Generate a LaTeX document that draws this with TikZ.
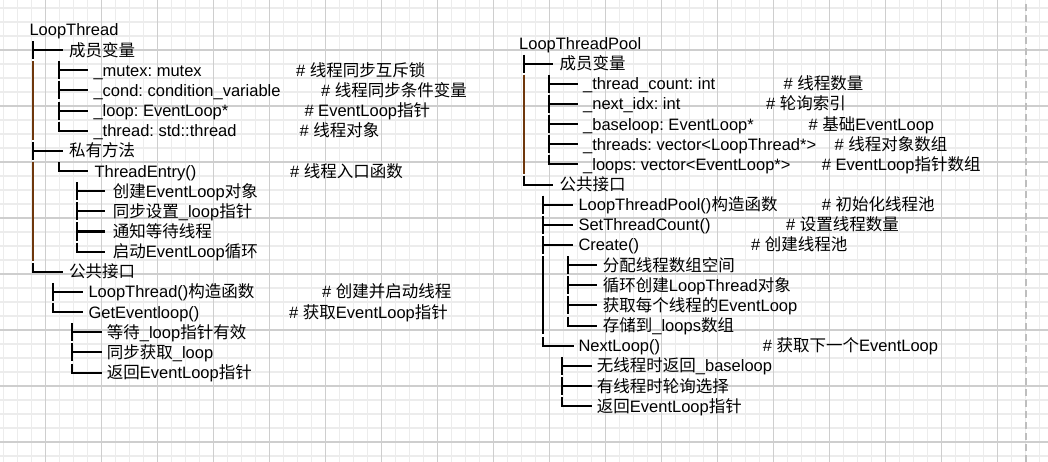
\documentclass[tikz,border=0pt]{standalone}
\usepackage{fontspec}
\setmainfont{Liberation Sans}
\newfontfamily\cjk{Noto Sans CJK SC}
\newcommand\zh[1]{{\cjk #1}}
\frenchspacing
\definecolor{gridminor}{RGB}{236,236,236}
\definecolor{gridmajor}{RGB}{206,206,206}
\definecolor{dashgray}{RGB}{190,190,190}
\definecolor{barbrown}{RGB}{110,55,12}
\tikzset{
  txt/.style={anchor=base west, inner sep=0pt, font=\fontsize{16.5}{20}\selectfont},
  glyph/.style={line width=2pt, draw=black},
  bar/.style={line width=2.2pt, draw=barbrown},
  minorline/.style={line width=1.5pt, draw=gridminor},
  majorline/.style={line width=1.1pt, draw=gridmajor},
}
% tee: vertical x, row y, horizontal end x
\newcommand\Tee[3]{\draw[glyph] (#1,#2-9) -- (#1,#2+9); \draw[glyph] (#1,#2) -- (#3,#2);}
\newcommand\Ell[3]{\draw[glyph] (#1,#2-9) -- (#1,#2) -- (#3,#2);}
\newcommand\Bar[3]{\draw[bar] (#1,#2+11) -- (#1,#3-11);}
\newcommand\Txt[4]{\node[txt] (#1) at (#2,#3+6) {#4};}
\begin{document}
\begin{tikzpicture}[x=1pt,y=-1pt]
\useasboundingbox (0,0) rectangle (1048,462);
\fill[white] (0,0) rectangle (1048,462);
% grid
\foreach \i in {0,...,74} {\draw[minorline] ({3.7+14*\i},0) -- ({3.7+14*\i},462);}
\foreach \i in {0,...,32} {\draw[minorline] (0,{8+14*\i}) -- (1048,{8+14*\i});}
\foreach \i in {0,...,17} {\draw[majorline] ({45.7+56*\i},0) -- ({45.7+56*\i},462);}
\foreach \i in {1,...,8} {\draw[majorline] (0,{-6+56*\i}) -- (1048,{-6+56*\i});}
\draw[dashgray, line width=2pt, dash pattern=on 7pt off 4pt] (1026,4) -- (1026,462);

% ===== Left tree: LoopThread =====
\Txt{lt}{29.3}{30}{LoopThread}
\Tee{33.3}{50.15}{63}
\Txt{ltm}{69}{50.15}{\zh{成员变量}}
\Bar{33.3}{50.15}{150.9}
\Tee{59.3}{70.3}{88}
\Txt{ltm1}{93.3}{70.3}{\_mutex: mutex}
\Txt{ltc1}{296}{70.3}{\# \zh{线程同步互斥锁}}
\Tee{59.3}{90.45}{88}
\Txt{ltm2}{93.3}{90.45}{\_cond: condition\_variable}
\Txt{ltc2}{321}{90.45}{\# \zh{线程同步条件变量}}
\Tee{59.3}{110.6}{88}
\Txt{ltm3}{93.3}{110.6}{\_loop: EventLoop*}
\Txt{ltc3}{304.3}{110.6}{\# EventLoop\zh{指针}}
\Ell{59.3}{130.75}{88}
\Txt{ltm4}{93.3}{130.75}{\_thread: std::thread}
\Txt{ltc4}{299.3}{130.75}{\# \zh{线程对象}}
\Tee{33.3}{150.9}{63}
\Txt{ltp}{69}{150.9}{\zh{私有方法}}
\Bar{33.3}{150.9}{271.8}
\Ell{59.3}{171.05}{88}
\Txt{ltp1}{94.3}{171.05}{ThreadEntry()}
\Txt{ltc5}{290}{171.05}{\# \zh{线程入口函数}}
\Tee{77.3}{191.2}{105}
\Txt{ltp11}{112.7}{191.2}{\zh{创建}EventLoop\zh{对象}}
\Tee{77.3}{211.35}{105}
\Txt{ltp12}{112.7}{211.35}{\zh{同步设置}\_loop\zh{指针}}
\Tee{77.3}{231.5}{105}
\Txt{ltp13}{112.7}{231.5}{\zh{通知等待线程}}
\Ell{77.3}{251.65}{105}
\Txt{ltp14}{112.7}{251.65}{\zh{启动}EventLoop\zh{循环}}
\Ell{33.3}{271.8}{63}
\Txt{ltq}{69}{271.8}{\zh{公共接口}}
\Tee{53.3}{291.95}{82.7}
\Txt{ltq1}{88.3}{291.95}{LoopThread()\zh{构造函数}}
\Txt{ltc6}{322}{291.95}{\# \zh{创建并启动线程}}
\Ell{53.3}{312.1}{82.7}
\Txt{ltq2}{88.3}{312.1}{GetEventloop()}
\Txt{ltc7}{289}{312.1}{\# \zh{获取}EventLoop\zh{指针}}
\Tee{71.7}{332.25}{101.7}
\Txt{ltq21}{106.7}{332.25}{\zh{等待}\_loop\zh{指针有效}}
\Tee{71.7}{352.4}{101.7}
\Txt{ltq22}{106.7}{352.4}{\zh{同步获取}\_loop}
\Ell{71.7}{372.55}{101.7}
\Txt{ltq23}{106.7}{372.55}{\zh{返回}EventLoop\zh{指针}}

% ===== Right tree: LoopThreadPool =====
\Txt{pt}{519}{43.5}{LoopThreadPool}
\Tee{524}{63.65}{553.3}
\Txt{ptm}{559.3}{63.65}{\zh{成员变量}}
\Bar{524}{63.65}{184.55}
\Tee{549.3}{83.8}{578.3}
\Txt{ptm1}{583}{83.8}{\_thread\_count: int}
\Txt{ptc1}{783.3}{83.8}{\# \zh{线程数量}}
\Tee{549.3}{103.95}{578.3}
\Txt{ptm2}{583}{103.95}{\_next\_idx: int}
\Txt{ptc2}{766}{103.95}{\# \zh{轮询索引}}
\Tee{549.3}{124.1}{578.3}
\Txt{ptm3}{583}{124.1}{\_baseloop: EventLoop*}
\Txt{ptc3}{808.3}{124.1}{\# \zh{基础}EventLoop}
\Tee{549.3}{144.25}{578.3}
\Txt{ptm4}{583}{144.25}{\_threads: vector<LoopThread*>}
\Txt{ptc4}{834.3}{144.25}{\# \zh{线程对象数组}}
\Ell{549.3}{164.4}{578.3}
\Txt{ptm5}{583}{164.4}{\_loops: vector<EventLoop*>}
\Txt{ptc5}{821.7}{164.4}{\# EventLoop\zh{指针数组}}
\Ell{524}{184.55}{553.3}
\Txt{ptq}{559.3}{184.55}{\zh{公共接口}}
\Tee{542.7}{204.7}{572.7}
\Txt{ptq1}{578.3}{204.7}{LoopThreadPool()\zh{构造函数}}
\Txt{ptc6}{821.7}{204.7}{\# \zh{初始化线程池}}
\Tee{542.7}{224.85}{572.7}
\Txt{ptq2}{578.3}{224.85}{SetThreadCount()}
\Txt{ptc7}{786}{224.85}{\# \zh{设置线程数量}}
\Tee{542.7}{245}{572.7}
\Txt{ptq3}{578.3}{245}{Create()}
\Txt{ptc8}{751}{245}{\# \zh{创建线程池}}
\draw[glyph] (542.7,256) -- (542.7,334);
\Tee{567.5}{265.15}{596.7}
\Txt{ptq31}{602.7}{265.15}{\zh{分配线程数组空间}}
\Tee{567.5}{285.3}{596.7}
\Txt{ptq32}{602.7}{285.3}{\zh{循环创建}LoopThread\zh{对象}}
\Tee{567.5}{305.45}{596.7}
\Txt{ptq33}{602.7}{305.45}{\zh{获取每个线程的}EventLoop}
\Ell{567.5}{325.6}{596.7}
\Txt{ptq34}{602.7}{325.6}{\zh{存储到}\_loops\zh{数组}}
\Ell{542.7}{345.75}{574.3}
\Txt{ptq4}{578.3}{345.75}{NextLoop()}
\Txt{ptc9}{762.7}{345.75}{\# \zh{获取下一个}EventLoop}
\Tee{561.7}{365.9}{591.7}
\Txt{ptq41}{596.7}{365.9}{\zh{无线程时返回}\_baseloop}
\Tee{561.7}{386.05}{591.7}
\Txt{ptq42}{596.7}{386.05}{\zh{有线程时轮询选择}}
\Ell{561.7}{406.2}{591.7}
\Txt{ptq43}{596.7}{406.2}{\zh{返回}EventLoop\zh{指针}}
\end{tikzpicture}
\end{document}
